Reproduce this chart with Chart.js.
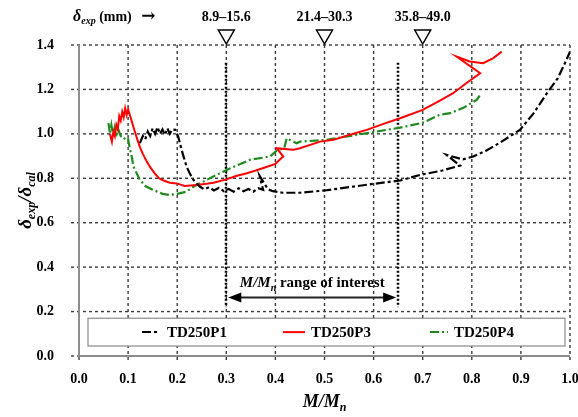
<!DOCTYPE html>
<html>
<head>
<meta charset="utf-8">
<script src="https://cdn.jsdelivr.net/npm/chart.js@4.4.1/dist/chart.umd.min.js"></script>
<style>
  html, body { margin: 0; padding: 0; background: #fff; }
  #caja { width: 578px; height: 417px; position: relative; }
</style>
</head>
<body>
<div id="caja"><canvas id="grafico"></canvas></div>
<script>
// valores
const xTickLabels = ['0.0', '0.1', '0.2', '0.3', '0.4', '0.5', '0.6', '0.7', '0.8', '0.9', '1.0'];
const yTickLabels = ['0.0', '0.2', '0.4', '0.6', '0.8', '1.0', '1.2', '1.4'];

const p1X = [0.124, 0.13, 0.135, 0.14, 0.145, 0.15, 0.155, 0.16, 0.165, 0.17, 0.175, 0.18, 0.185, 0.19, 0.196, 0.202, 0.209, 0.214, 0.219, 0.226, 0.233, 0.24, 0.246, 0.255, 0.265, 0.275, 0.285, 0.295, 0.305, 0.315, 0.325, 0.335, 0.345, 0.355, 0.365, 0.375, 0.368, 0.385, 0.395, 0.415, 0.45, 0.5, 0.55, 0.6, 0.654, 0.694, 0.74, 0.776, 0.749, 0.782, 0.803, 0.83, 0.857, 0.898, 0.925, 0.952, 0.975, 0.99, 1.0];
const p1Y = [0.958, 0.99, 0.975, 1.01, 0.99, 1.025, 1.0, 1.03, 1.0, 1.02, 0.995, 1.025, 1.0, 1.02, 1.018, 0.988, 0.928, 0.89, 0.853, 0.82, 0.793, 0.775, 0.763, 0.75, 0.76, 0.745, 0.757, 0.742, 0.752, 0.74, 0.755, 0.742, 0.752, 0.74, 0.755, 0.748, 0.81, 0.75, 0.742, 0.735, 0.735, 0.745, 0.76, 0.775, 0.79, 0.815, 0.835, 0.857, 0.905, 0.885, 0.898, 0.925, 0.96, 1.018, 1.09, 1.18, 1.25, 1.32, 1.37];

const p3X = [0.063, 0.067, 0.07, 0.073, 0.076, 0.079, 0.082, 0.085, 0.088, 0.091, 0.094, 0.097, 0.1, 0.105, 0.111, 0.118, 0.124, 0.13, 0.138, 0.145, 0.155, 0.163, 0.172, 0.185, 0.199, 0.215, 0.24, 0.26, 0.274, 0.3, 0.32, 0.342, 0.36, 0.38, 0.4, 0.416, 0.403, 0.436, 0.45, 0.491, 0.518, 0.55, 0.586, 0.62, 0.654, 0.7, 0.735, 0.762, 0.79, 0.817, 0.769, 0.796, 0.823, 0.843, 0.861];
const p3Y = [1.0, 0.965, 1.01, 0.99, 1.04, 1.02, 1.08, 1.06, 1.1, 1.075, 1.115, 1.085, 1.11, 1.075, 1.03, 0.98, 0.94, 0.91, 0.875, 0.85, 0.82, 0.8, 0.79, 0.78, 0.777, 0.765, 0.77, 0.775, 0.78, 0.795, 0.81, 0.823, 0.835, 0.85, 0.865, 0.898, 0.935, 0.928, 0.935, 0.965, 0.973, 0.995, 1.018, 1.045, 1.07, 1.108, 1.15, 1.183, 1.23, 1.273, 1.348, 1.326, 1.318, 1.34, 1.37];

const p4X = [0.06, 0.063, 0.066, 0.07, 0.073, 0.077, 0.08, 0.085, 0.09, 0.095, 0.1, 0.104, 0.108, 0.111, 0.118, 0.124, 0.135, 0.151, 0.17, 0.185, 0.2, 0.219, 0.235, 0.253, 0.28, 0.308, 0.348, 0.389, 0.403, 0.418, 0.423, 0.443, 0.45, 0.504, 0.55, 0.6, 0.654, 0.7, 0.735, 0.756, 0.785, 0.81, 0.817];
const p4Y = [1.048, 1.0, 1.04, 0.99, 1.03, 1.0, 1.02, 0.99, 0.99, 0.97, 0.975, 0.93, 0.89, 0.853, 0.82, 0.793, 0.765, 0.748, 0.73, 0.725, 0.73, 0.74, 0.765, 0.785, 0.815, 0.845, 0.883, 0.898, 0.925, 0.935, 0.98, 0.958, 0.965, 0.973, 0.99, 1.008, 1.028, 1.05, 1.086, 1.093, 1.12, 1.153, 1.176];

const nombres = ['TD250P1', 'TD250P3', 'TD250P4'];
const colores = ['#000000', '#ff0000', '#1e8a1e'];
const guiones = [[9, 3, 3, 3], [], [9, 3, 2, 3]];

// anotaciones de arriba
const marcasX = [0.3, 0.5, 0.7];
const marcasTexto = ['8.9\u201315.6', '21.4\u201330.3', '35.8\u201349.0'];
const rangoX = [0.3, 0.65];

const SERIF = '"Liberation Serif", "Times New Roman", serif';

function juntar(xs, ys) {
    return xs.map((x, i) => ({ x: x, y: ys[i] }));
}

// escribe texto con partes (subindices, cursiva)
function textoRico(ctx, partes, x, y, align) {
    let ancho = 0;
    partes.forEach(p => { ctx.font = p.f; ancho += ctx.measureText(p.t).width; });
    let cx = align === 'center' ? x - ancho / 2 : x;
    ctx.textBaseline = 'alphabetic';
    ctx.textAlign = 'left';
    partes.forEach(p => {
        ctx.font = p.f;
        ctx.fillText(p.t, cx, y + (p.dy || 0));
        cx += ctx.measureText(p.t).width;
    });
}

const anotaciones = {
    id: 'anotaciones',
    beforeDatasetsDraw(chart) {
        const ctx = chart.ctx;
        const xs = chart.scales.x, ys = chart.scales.y;
        const area = chart.chartArea;
        ctx.save();
        // rejilla punteada
        ctx.strokeStyle = '#3a3a3a';
        ctx.lineWidth = 1.4;
        ctx.setLineDash([3, 3]);
        for (const t of xTickLabels) {
            const px = xs.getPixelForValue(Number(t));
            ctx.beginPath();
            ctx.moveTo(px, area.top);
            ctx.lineTo(px, area.bottom + 6);
            ctx.stroke();
        }
        for (const t of yTickLabels) {
            const py = ys.getPixelForValue(Number(t));
            ctx.beginPath();
            ctx.moveTo(area.left - 8, py);
            ctx.lineTo(area.right, py);
            ctx.stroke();
        }
        // ejes
        ctx.setLineDash([]);
        ctx.strokeStyle = '#8c8c8c';
        ctx.lineWidth = 2;
        ctx.beginPath();
        ctx.moveTo(area.left, area.top);
        ctx.lineTo(area.left, area.bottom);
        ctx.lineTo(area.right, area.bottom);
        ctx.stroke();

        // lineas gruesas punteadas del rango
        ctx.strokeStyle = '#000';
        ctx.lineWidth = 2.5;
        ctx.setLineDash([2, 2]);
        rangoX.forEach(v => {
            const px = Math.round(xs.getPixelForValue(v));
            ctx.beginPath();
            ctx.moveTo(px, ys.getPixelForValue(1.32));
            ctx.lineTo(px, ys.getPixelForValue(0.22));
            ctx.stroke();
        });
        ctx.restore();
    },
    afterDraw(chart) {
        const ctx = chart.ctx;
        const xs = chart.scales.x, ys = chart.scales.y;
        const area = chart.chartArea;
        ctx.save();
        ctx.fillStyle = '#000';

        // flecha del rango
        const ay = ys.getPixelForValue(0.263);
        const a1 = xs.getPixelForValue(rangoX[0]) + 2;
        const a2 = xs.getPixelForValue(rangoX[1]) - 2;
        ctx.strokeStyle = '#222';
        ctx.lineWidth = 2;
        ctx.beginPath();
        ctx.moveTo(a1 + 8, ay);
        ctx.lineTo(a2 - 8, ay);
        ctx.stroke();
        ctx.beginPath();
        ctx.moveTo(a1, ay); ctx.lineTo(a1 + 13, ay - 5); ctx.lineTo(a1 + 13, ay + 5); ctx.closePath();
        ctx.moveTo(a2, ay); ctx.lineTo(a2 - 13, ay - 5); ctx.lineTo(a2 - 13, ay + 5); ctx.closePath();
        ctx.fill();

        textoRico(ctx, [
            { t: 'M/M', f: 'italic bold 15px ' + SERIF },
            { t: 'n', f: 'italic bold 10px ' + SERIF, dy: 4 },
            { t: ' range of interest', f: 'bold 15px ' + SERIF }
        ], xs.getPixelForValue(0.475), ys.getPixelForValue(0.335) + 5, 'center');

        // triangulos y textos de arriba
        ctx.lineWidth = 1.5;
        ctx.strokeStyle = '#000';
        marcasX.forEach((v, i) => {
            const px = xs.getPixelForValue(v);
            ctx.beginPath();
            ctx.moveTo(px, area.top - 1);
            ctx.lineTo(px - 8, area.top - 15);
            ctx.lineTo(px + 8, area.top - 15);
            ctx.closePath();
            ctx.fillStyle = '#fff';
            ctx.fill();
            ctx.stroke();
            ctx.fillStyle = '#000';
            ctx.font = 'bold 14px ' + SERIF;
            ctx.textAlign = 'center';
            ctx.textBaseline = 'alphabetic';
            ctx.fillText(marcasTexto[i], px, 21);
        });
        textoRico(ctx, [
            { t: '\u03b4', f: 'italic bold 16px ' + SERIF },
            { t: 'exp', f: 'italic bold 10px ' + SERIF, dy: 3 },
            { t: ' (mm) ', f: 'bold 14px ' + SERIF },
            { t: ' \u2192', f: 'bold 17px "DejaVu Serif", serif' }
        ], 73, 21, 'left');

        // leyenda dentro del area
        const lx1 = 88, lx2 = 565, ly1 = ys.getPixelForValue(0.17), ly2 = ys.getPixelForValue(0.045);
        ctx.fillStyle = '#fff';
        ctx.fillRect(lx1, ly1, lx2 - lx1, ly2 - ly1);
        ctx.strokeStyle = '#8a8a8a';
        ctx.lineWidth = 1.2;
        ctx.strokeRect(lx1, ly1, lx2 - lx1, ly2 - ly1);
        const ly = (ly1 + ly2) / 2;
        const muestras = [[142, 160, 167], [283, 305, 311], [430, 448, 454]];
        muestras.forEach((m, i) => {
            ctx.strokeStyle = colores[i];
            ctx.lineWidth = 2;
            ctx.setLineDash(guiones[i]);
            ctx.beginPath();
            ctx.moveTo(m[0], ly);
            ctx.lineTo(m[1], ly);
            ctx.stroke();
            ctx.setLineDash([]);
            ctx.fillStyle = '#000';
            ctx.font = 'bold 15px ' + SERIF;
            ctx.textAlign = 'left';
            ctx.textBaseline = 'middle';
            ctx.fillText(nombres[i], m[2], ly + 1);
        });

        // titulos de ejes
        ctx.fillStyle = '#000';
        textoRico(ctx, [
            { t: 'M/M', f: 'italic bold 18px ' + SERIF },
            { t: 'n', f: 'italic bold 12px ' + SERIF, dy: 4 }
        ], xs.getPixelForValue(0.5), 407, 'center');

        ctx.save();
        ctx.translate(31, (area.top + area.bottom) / 2);
        ctx.rotate(-Math.PI / 2);
        textoRico(ctx, [
            { t: '\u03b4', f: 'italic bold 19px ' + SERIF },
            { t: 'exp', f: 'italic bold 12px ' + SERIF, dy: 4 },
            { t: '/\u03b4', f: 'italic bold 19px ' + SERIF },
            { t: 'cal', f: 'italic bold 12px ' + SERIF, dy: 4 }
        ], 0, 0, 'center');
        ctx.restore();

        ctx.restore();
    }
};

function crearGrafico() {
    const ctx = document.getElementById('grafico').getContext('2d');
    const series = [juntar(p1X, p1Y), juntar(p3X, p3Y), juntar(p4X, p4Y)];
    new Chart(ctx, {
        type: 'scatter',
        data: {
            datasets: series.map((d, i) => ({
                label: nombres[i],
                data: d,
                showLine: true,
                borderColor: colores[i],
                backgroundColor: colores[i],
                borderWidth: i === 1 ? 2 : 2.2,
                borderDash: guiones[i],
                pointRadius: 0,
                tension: 0
            }))
        },
        options: {
            responsive: true,
            maintainAspectRatio: false,
            animation: false,
            layout: { padding: { left: 0, right: 8, top: 45, bottom: 0 } },
            plugins: {
                legend: { display: false },
                tooltip: { enabled: false }
            },
            scales: {
                x: {
                    type: 'linear',
                    min: 0,
                    max: 1,
                    afterBuildTicks: s => { s.ticks = xTickLabels.map(t => ({ value: parseFloat(t) })); },
                    afterFit: s => { s.height = 61; s.paddingLeft = 0; s.paddingRight = 0; },
                    ticks: {
                        color: '#000',
                        padding: 7,
                        maxRotation: 0,
                        font: { family: SERIF, size: 14, weight: 'bold' },
                        callback: (v, i) => xTickLabels[i]
                    },
                    grid: { display: false },
                    border: { display: false }
                },
                y: {
                    type: 'linear',
                    min: 0,
                    max: 1.4,
                    afterBuildTicks: s => { s.ticks = yTickLabels.map(t => ({ value: parseFloat(t) })); },
                    afterFit: s => { s.width = 79; },
                    ticks: {
                        color: '#000',
                        padding: 17,
                        font: { family: SERIF, size: 14, weight: 'bold' },
                        callback: (v, i) => yTickLabels[i]
                    },
                    grid: { display: false },
                    border: { display: false }
                }
            }
        },
        plugins: [anotaciones]
    });
}

document.addEventListener('DOMContentLoaded', function() {
    crearGrafico();
});
</script>
</body>
</html>
